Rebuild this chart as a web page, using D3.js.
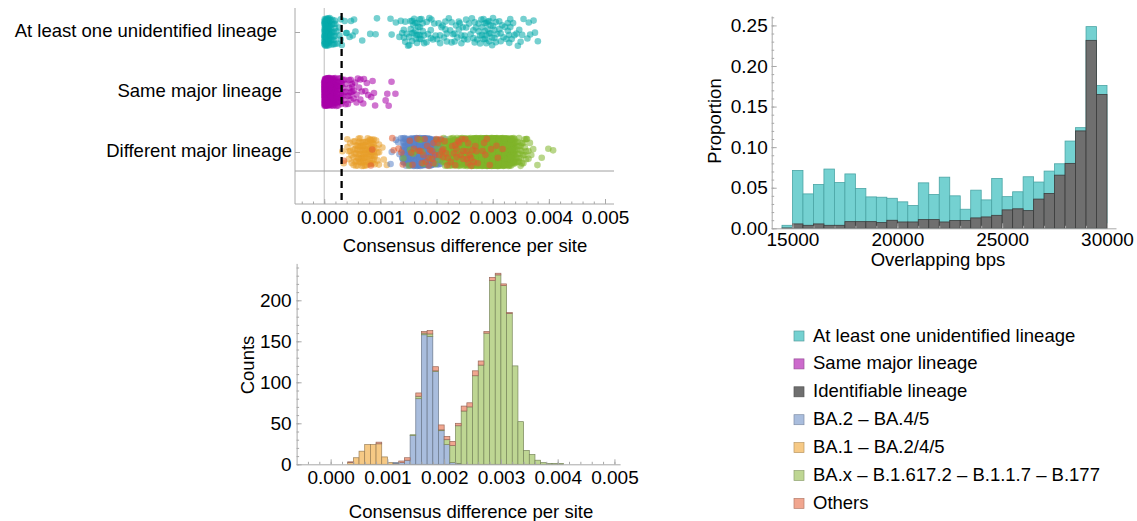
<!DOCTYPE html>
<html>
<head>
<meta charset="utf-8">
<script src="https://cdn.jsdelivr.net/npm/d3@7"></script>
<style>
  body { margin: 0; background: #fff; }
  svg { font-family: "Liberation Sans", Arial, Helvetica, sans-serif; }
  .axis path, .axis line { stroke: #a8a8a8; }
  .axis text { font-size: 19px; fill: #000; font-family: "Liberation Sans", Arial, sans-serif; }
  .title { font-size: 18.5px; fill: #000; }
</style>
</head>
<body>
<div id="chart"></div>
<script>
// ---------- data ----------
const stripCategories = ["At least one unidentified lineage", "Same major lineage", "Different major lineage"];

// left edges of the 0.0001-wide bins of consensus difference per site
const diffBins = [0.0000, 0.0001, 0.0002, 0.0003, 0.0004, 0.0005, 0.0006, 0.0007, 0.0008, 0.0009,
                  0.0010, 0.0011, 0.0012, 0.0013, 0.0014, 0.0015, 0.0016, 0.0017, 0.0018, 0.0019,
                  0.0020, 0.0021, 0.0022, 0.0023, 0.0024, 0.0025, 0.0026, 0.0027, 0.0028, 0.0029,
                  0.0030, 0.0031, 0.0032, 0.0033, 0.0034, 0.0035, 0.0036, 0.0037, 0.0038, 0.0039,
                  0.0040];

// pairs per bin
const unidentifiedCounts = [80, 20, 6, 3, 3, 3, 1, 0, 1, 2, 0, 1, 2, 3, 6, 9, 10, 9, 6, 4,
                            5, 6, 5, 6, 5, 5, 6, 7, 10, 9, 7, 6, 6, 5, 4, 2, 3, 2, 1, 0, 0];
const sameLineageCounts = [160, 70, 30, 12, 10, 7, 5, 4, 3, 1, 1, 3, 1, 0, 0, 0, 0, 0, 0, 0,
                           0, 0, 0, 0, 0, 0, 0, 0, 0, 0, 0, 0, 0, 0, 0, 0, 0, 0, 0, 0, 0];

// different major lineage, split by lineage pair
const ba1Counts = [0, 0, 0, 2, 8, 16, 24, 24, 25, 9, 2, 1, 0, 0, 0, 0, 0, 0, 0, 0,
                   0, 0, 0, 0, 0, 0, 0, 0, 0, 0, 0, 0, 0, 0, 0, 0, 0, 0, 0, 0, 0];
const ba2Counts = [0, 0, 0, 0, 0, 0, 0, 0, 0, 0, 0, 1, 2, 5, 35, 80, 158, 156, 113, 41,
                   24, 2, 1, 0, 0, 0, 0, 0, 0, 0, 0, 0, 0, 0, 0, 0, 0, 0, 0, 0, 0];
const baxCounts = [0, 0, 0, 0, 0, 0, 0, 0, 0, 0, 0, 0, 0, 0, 1, 3, 2, 3, 1, 1,
                   6, 21, 46, 65, 70, 108, 121, 160, 224, 231, 218, 184, 120, 52, 17, 12, 5, 2, 1, 1, 1];
const otherCounts = [0, 0, 0, 1, 0, 0, 0, 0, 2, 0, 0, 0, 2, 3, 0, 4, 2, 4, 5, 6,
                     4, 5, 3, 6, 5, 6, 5, 2, 4, 2, 2, 1, 0, 0, 0, 0, 0, 0, 0, 0, 0];

// overlapping bps histogram (500 bp bins)
const overlapBins = [14500, 15000, 15500, 16000, 16500, 17000, 17500, 18000, 18500, 19000,
                     19500, 20000, 20500, 21000, 21500, 22000, 22500, 23000, 23500, 24000,
                     24500, 25000, 25500, 26000, 26500, 27000, 27500, 28000, 28500, 29000, 29500];
const unidentifiedProp = [0.0037, 0.0713, 0.0424, 0.054, 0.073, 0.0564, 0.067, 0.049, 0.0387, 0.0383,
                          0.037, 0.0326, 0.028, 0.056, 0.0416, 0.063, 0.040, 0.0235, 0.047, 0.035,
                          0.0614, 0.039, 0.045, 0.0635, 0.057, 0.0705, 0.0795, 0.1075, 0.124, 0.2485, 0.176];
const identifiableProp = [0.0004, 0.0054, 0.0037, 0.0054, 0.0037, 0.0037, 0.0082, 0.0082, 0.0082, 0.007,
                          0.0099, 0.0078, 0.0078, 0.0107, 0.0107, 0.0078, 0.0095, 0.0095, 0.0128, 0.014,
                          0.016, 0.0227, 0.024, 0.0218, 0.036, 0.043, 0.0655, 0.080, 0.120, 0.2316, 0.165];

const legendLabels = ["At least one unidentified lineage", "Same major lineage", "Identifiable lineage",
                      "BA.2 \u2013 BA.4/5", "BA.1 \u2013 BA.2/4/5", "BA.x \u2013 B.1.617.2 \u2013 B.1.1.7 \u2013 B.177", "Others"];

const diffTicks = [0, 0.001, 0.002, 0.003, 0.004, 0.005];
const countTicks = [0, 50, 100, 150, 200];
const propTicks = [0, 0.05, 0.10, 0.15, 0.20, 0.25];
const bpsTicks = [15000, 20000, 25000, 30000];

// ---------- styles ----------
const pastel = {
    teal: "#74d1d1", magenta: "#cc6acc", grey: "#6f6f6f",
    ba2: "#a9bddd", ba1: "#f6c985", bax: "#bed693", other: "#f1a68f"
};
const dotColor = {
    teal: "#05a9a9", magenta: "#a800a8",
    ba1: "#e89e2a", ba2: "#5b84c8", bax: "#80b42a", other: "#e25a2e"
};
const binWidth = 0.0001;

const svg = d3.select("#chart").append("svg")
    .attr("width", 1137)
    .attr("height", 521);

// deterministic spread of dots inside a bin (jitter only, carries no data)
function spread(i) {
    return [(0.5 + i * 0.7548776662) % 1, (0.5 + i * 0.5698402910) % 1];
}

function minorTicks(g, axis) {
    g.call(axis.tickFormat("").tickSize(-2.5).tickSizeOuter(0));
    g.select(".domain").remove();
}

// ---------- strip plot ----------
function drawStrip() {
    const x = d3.scaleLinear().domain([-0.00052, 0.00516]).range([295, 614]);
    const y = d3.scalePoint().domain(stripCategories).range([32, 152]);
    const top = 8, bottom = 204;
    const g = svg.append("g");

    // crossing axes inside the frame
    g.append("line").attr("x1", x(0)).attr("x2", x(0)).attr("y1", top).attr("y2", bottom)
        .attr("stroke", "#bdbdbd");
    g.append("line").attr("x1", 295).attr("x2", 614).attr("y1", 171).attr("y2", 171)
        .attr("stroke", "#a0a0a0");

    const groups = [
        { cat: stripCategories[0], counts: unidentifiedCounts, color: dotColor.teal },
        { cat: stripCategories[1], counts: sameLineageCounts, color: dotColor.magenta },
        { cat: stripCategories[2], counts: ba1Counts, color: dotColor.ba1 },
        { cat: stripCategories[2], counts: ba2Counts, color: dotColor.ba2 },
        { cat: stripCategories[2], counts: baxCounts, color: dotColor.bax },
        { cat: stripCategories[2], counts: otherCounts, color: dotColor.other }
    ];

    groups.forEach((grp, gi) => {
        const pts = [];
        grp.counts.forEach((c, k) => {
            // each bin starts somewhere else in the sequence so bins don't line up
            let n = gi * 1009 + k * k * 17 + k * 61;
            for (let j = 0; j < c; j++) {
                const s = spread(n++);
                pts.push({ v: diffBins[k] + s[0] * binWidth, off: s[1] - 0.5 });
            }
        });
        g.append("g").selectAll("circle")
            .data(pts)
            .enter()
            .append("circle")
            .attr("cx", d => x(d.v))
            .attr("cy", d => y(grp.cat) + d.off * 28)
            .attr("r", 3.3)
            .attr("fill", grp.color)
            .attr("fill-opacity", 0.55);
    });

    // threshold
    g.append("line").attr("x1", x(0.00031)).attr("x2", x(0.00031)).attr("y1", 13).attr("y2", bottom)
        .attr("stroke", "#000").attr("stroke-width", 2.3).attr("stroke-dasharray", "7,5");

    // frame axes
    const xAxis = g.append("g").attr("class", "axis").attr("transform", `translate(0,${bottom})`)
        .call(d3.axisBottom(x).tickValues(diffTicks).tickFormat(d3.format(".3f")).tickSize(-5).tickSizeOuter(0).tickPadding(7));
    xAxis.select(".domain").attr("d", "M295,0H614");
    g.append("g").attr("class", "axis").attr("transform", `translate(0,${bottom})`)
        .call(gg => minorTicks(gg, d3.axisBottom(x).tickValues(d3.range(-0.0004, 0.0051, 0.0002))));

    g.append("g").attr("class", "axis").attr("transform", "translate(295,0)")
        .call(d3.axisLeft(y).tickFormat("").tickSize(-5).tickSizeOuter(0))
        .select(".domain").attr("d", `M0,${top}V${bottom}`);

    const labelEnds = [277, 282, 292];
    g.selectAll(".cat-label")
        .data(stripCategories)
        .enter()
        .append("text")
        .attr("class", "title")
        .attr("x", (d, i) => labelEnds[i])
        .attr("y", d => y(d) + 5)
        .attr("text-anchor", "end")
        .text(d => d);

    g.append("text").attr("class", "title")
        .attr("x", 465).attr("y", 252)
        .attr("text-anchor", "middle")
        .text("Consensus difference per site");
}

// ---------- overlapping bps histogram ----------
function drawOverlap() {
    const x = d3.scaleLinear().domain([14009, 30429]).range([771.7, 1116]);
    const y = d3.scaleLinear().domain([0, 0.2616]).range([228.3, 16]);
    const g = svg.append("g");
    const rows = overlapBins.map((b, i) => ({ b, teal: unidentifiedProp[i], grey: identifiableProp[i] }));

    g.selectAll(".teal-bar")
        .data(rows)
        .enter()
        .append("rect")
        .attr("x", d => x(d.b))
        .attr("width", d => x(d.b + 500) - x(d.b))
        .attr("y", d => y(d.teal))
        .attr("height", d => y(0) - y(d.teal))
        .attr("fill", pastel.teal)
        .attr("stroke", "#4aa5a5")
        .attr("stroke-width", 0.8);

    g.selectAll(".grey-bar")
        .data(rows)
        .enter()
        .append("rect")
        .attr("x", d => x(d.b))
        .attr("width", d => x(d.b + 500) - x(d.b))
        .attr("y", d => y(d.grey))
        .attr("height", d => y(0) - y(d.grey))
        .attr("fill", pastel.grey)
        .attr("stroke", "#3c3c3c")
        .attr("stroke-width", 0.8);

    g.append("g").attr("class", "axis").attr("transform", "translate(0,228.3)")
        .call(d3.axisBottom(x).tickValues(bpsTicks).tickFormat(d3.format("d")).tickSize(-5).tickSizeOuter(0).tickPadding(4.5));
    g.append("g").attr("class", "axis").attr("transform", "translate(0,228.3)")
        .call(gg => minorTicks(gg, d3.axisBottom(x).tickValues(d3.range(15000, 30001, 1000))));
    g.append("g").attr("class", "axis").attr("transform", "translate(771.7,0)")
        .call(d3.axisLeft(y).tickValues(propTicks).tickFormat(d3.format(".2f")).tickSize(-5).tickSizeOuter(0).tickPadding(4));
    g.append("g").attr("class", "axis").attr("transform", "translate(771.7,0)")
        .call(gg => minorTicks(gg, d3.axisLeft(y).tickValues(d3.range(0, 0.261, 0.01))));

    g.append("text").attr("class", "title")
        .attr("x", 938).attr("y", 266)
        .attr("text-anchor", "middle")
        .text("Overlapping bps");
    g.append("text").attr("class", "title")
        .attr("transform", "translate(721,121) rotate(-90)")
        .attr("text-anchor", "middle")
        .text("Proportion");
}

// ---------- stacked counts histogram ----------
function drawCounts() {
    const x = d3.scaleLinear().domain([-0.0006, 0.0051]).range([296.6, 620.1]);
    const y = d3.scaleLinear().domain([0, 245]).range([464.3, 263.4]);
    const g = svg.append("g");

    const keys = ["ba1", "ba2", "bax", "other"];
    const rows = diffBins.map((b, i) => ({
        b, ba1: ba1Counts[i], ba2: ba2Counts[i], bax: baxCounts[i], other: otherCounts[i]
    }));
    const series = d3.stack().keys(keys)(rows);

    g.selectAll(".layer")
        .data(series)
        .enter()
        .append("g")
        .attr("fill", d => pastel[d.key])
        .attr("stroke", d => d3.color(pastel[d.key]).darker(1.3))
        .attr("stroke-width", 0.7)
        .selectAll("rect")
        .data(d => d.filter(s => s[1] > s[0]))
        .enter()
        .append("rect")
        .attr("x", d => x(d.data.b))
        .attr("width", d => x(d.data.b + binWidth) - x(d.data.b))
        .attr("y", d => y(d[1]))
        .attr("height", d => y(d[0]) - y(d[1]));

    g.append("g").attr("class", "axis").attr("transform", "translate(0,464.3)")
        .call(d3.axisBottom(x).tickValues(diffTicks).tickFormat(d3.format(".3f")).tickSize(-5).tickSizeOuter(0).tickPadding(6.5));
    g.append("g").attr("class", "axis").attr("transform", "translate(0,464.3)")
        .call(gg => minorTicks(gg, d3.axisBottom(x).tickValues(d3.range(-0.0004, 0.0051, 0.0002))));
    g.append("g").attr("class", "axis").attr("transform", "translate(296.6,0)")
        .call(d3.axisLeft(y).tickValues(countTicks).tickSize(-5).tickSizeOuter(0).tickPadding(5));
    g.append("g").attr("class", "axis").attr("transform", "translate(296.6,0)")
        .call(gg => minorTicks(gg, d3.axisLeft(y).tickValues(d3.range(0, 241, 10))));

    g.append("text").attr("class", "title")
        .attr("x", 471).attr("y", 518)
        .attr("text-anchor", "middle")
        .text("Consensus difference per site");
    g.append("text").attr("class", "title")
        .attr("transform", "translate(254,365) rotate(-90)")
        .attr("text-anchor", "middle")
        .text("Counts");
}

// ---------- legend ----------
function drawLegend() {
    const colors = [pastel.teal, pastel.magenta, pastel.grey, pastel.ba2, pastel.ba1, pastel.bax, pastel.other];
    const rows = svg.append("g").selectAll(".legend-row")
        .data(legendLabels)
        .enter()
        .append("g")
        .attr("transform", (d, i) => `translate(794,${336 + i * 27.9})`);

    rows.append("rect")
        .attr("x", 0).attr("y", -5)
        .attr("width", 10).attr("height", 10)
        .attr("fill", (d, i) => colors[i])
        .attr("stroke", (d, i) => d3.color(colors[i]).darker(0.8))
        .attr("stroke-width", 0.7);

    rows.append("text")
        .attr("class", "title")
        .attr("x", 19).attr("y", 5.5)
        .text(d => d);
}

drawStrip();
drawOverlap();
drawCounts();
drawLegend();
</script>
</body>
</html>
